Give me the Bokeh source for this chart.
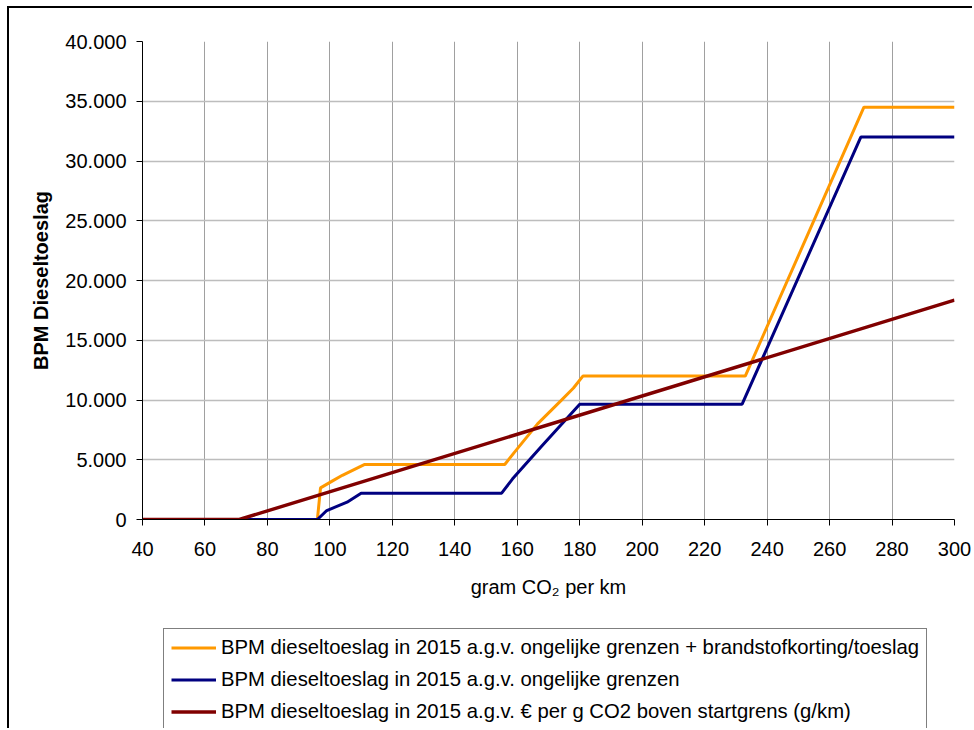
from bokeh.plotting import figure
from bokeh.layouts import column
from bokeh.models import Legend, LegendItem, FixedTicker, CustomJSTickFormatter, Range1d
from bokeh.embed import file_html
from bokeh.resources import INLINE

# ---- data ----
x_ticks = [40, 60, 80, 100, 120, 140, 160, 180, 200, 220, 240, 260, 280, 300]
y_ticks = [0, 5000, 10000, 15000, 20000, 25000, 30000, 35000, 40000]

co2_orange = [40, 96, 97, 101, 104, 111, 156, 159, 166.5, 174, 178, 181, 233, 271, 300]
bpm_orange = [0, 0, 2650, 3250, 3700, 4600, 4600, 5600, 8000, 9950, 11000, 12000, 12000, 34500, 34500]

co2_blue = [40, 96, 99, 105.5, 110, 155, 158.5, 167.5, 180, 232, 270, 300]
bpm_blue = [0, 0, 750, 1450, 2200, 2200, 3400, 6050, 9650, 9650, 32000, 32000]

co2_red = [40, 71, 300]
bpm_red = [0, 0, 18350]

labels = [
    "BPM dieseltoeslag in 2015 a.g.v. ongelijke grenzen + brandstofkorting/toeslag",
    "BPM dieseltoeslag in 2015 a.g.v. ongelijke grenzen",
    "BPM dieseltoeslag in 2015 a.g.v. \u20ac per g CO2 boven startgrens (g/km)",
]
colors = ["#FF9900", "#000080", "#800000"]
widths = [3, 3, 3.4]

FONT = "Liberation Sans"
FS = "20px"

W = 963
p = figure(width=W, height=612, output_backend="svg", toolbar_location=None,
           x_range=Range1d(40, 300), y_range=Range1d(0, 40000),
           min_border_left=133, min_border_right=18, min_border_top=33,
           min_border_bottom=101)

p.outline_line_color = None
p.background_fill_color = "white"
p.border_fill_color = "white"

# axes
for ax in (p.xaxis[0], p.yaxis[0]):
    ax.axis_line_color = "black"
    ax.axis_line_width = 1
    ax.major_tick_line_color = "black"
    ax.major_tick_out = 6
    ax.major_tick_in = 0
    ax.minor_tick_line_color = None
    ax.major_label_text_font = FONT
    ax.major_label_text_font_size = FS
    ax.major_label_text_color = "black"
    ax.axis_label_text_font = FONT
    ax.axis_label_text_color = "black"

p.xaxis.ticker = FixedTicker(ticks=x_ticks)
p.yaxis.ticker = FixedTicker(ticks=y_ticks)
p.yaxis.formatter = CustomJSTickFormatter(code="""
    return Math.round(tick).toString().replace(/\\B(?=(\\d{3})+(?!\\d))/g, '.');
""")
p.xaxis.major_label_standoff = 16
p.yaxis.major_label_standoff = 10

p.xaxis.axis_label = "gram CO\u2082 per km"
p.xaxis.axis_label_text_font_size = FS
p.xaxis.axis_label_text_font_style = "normal"
p.xaxis.axis_label_standoff = 17

p.yaxis.axis_label = "BPM Dieseltoeslag"
p.yaxis.axis_label_text_font_size = "20px"
p.yaxis.axis_label_text_font_style = "bold"
p.yaxis.axis_label_standoff = 10

# grid
p.xgrid.grid_line_color = "#a0a0a0"
p.xgrid.grid_line_width = 1
p.ygrid.grid_line_color = "#bdbdbd"
p.ygrid.grid_line_width = 1.5

# series
p.line(co2_orange, bpm_orange, line_color=colors[0], line_width=widths[0])
p.line(co2_blue, bpm_blue, line_color=colors[1], line_width=widths[1])
p.line(co2_red, bpm_red, line_color=colors[2], line_width=widths[2])

# legend strip below the chart (its frame is aligned with the chart's frame)
pl = figure(width=W, height=108, output_backend="svg", toolbar_location=None,
            x_range=Range1d(0, 1), y_range=Range1d(0, 1),
            x_axis_location=None, y_axis_location=None,
            min_border_left=0, min_border_right=0, min_border_top=0, min_border_bottom=0)
pl.grid.visible = False
pl.outline_line_color = None
pl.background_fill_color = "white"
pl.border_fill_color = "white"

items = []
for lab, c, w in zip(labels, colors, widths):
    # legend proxies: lines kept outside the visible range of the strip
    r = pl.line(x=[0, 1], y=[-5, -5], line_color=c, line_width=w)
    items.append(LegendItem(label=lab, renderers=[r]))

legend = Legend(items=items, location=(21, -3))
legend.margin = 0
legend.padding = 7
legend.spacing = 9
legend.glyph_width = 45
legend.glyph_height = 23
legend.label_height = 23
legend.label_standoff = 5
legend.label_text_font = FONT
legend.label_text_font_size = "20.3px"
legend.label_text_color = "black"
legend.border_line_color = "black"
legend.border_line_width = 1
legend.background_fill_color = "white"
legend.background_fill_alpha = 1
pl.add_layout(legend)

layout = column(p, pl, spacing=0)
layout.styles = {"margin-left": "7px", "margin-top": "6px",
                 "border-left": "2px solid #000000", "border-top": "2px solid #000000"}

open("out.html", "w").write(file_html(layout, INLINE))
